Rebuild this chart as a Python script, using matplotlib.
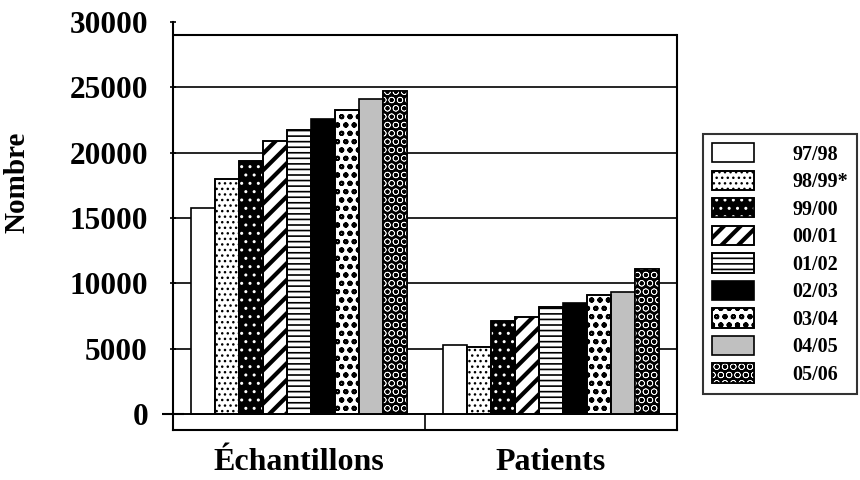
import numpy as np
import matplotlib
matplotlib.use("Agg")
import matplotlib.pyplot as plt
from matplotlib.patches import Rectangle

plt.rcParams['font.family'] = ['Liberation Serif', 'DejaVu Serif']
plt.rcParams['font.weight'] = 'bold'
plt.rcParams['hatch.linewidth'] = 1.0

categories = ['Échantillons', 'Patients']
seasons = ['97/98', '98/99*', '99/00', '00/01', '01/02', '02/03', '03/04', '04/05', '05/06']
samples = [15800, 18000, 19400, 20900, 21700, 22600, 23300, 24100, 24700]
patients = [5300, 5100, 7100, 7400, 8200, 8500, 9100, 9300, 11100]
yticks = [0, 5000, 10000, 15000, 20000, 25000, 30000]

# face, hatch, hatch colour, hatch linewidth
styles = [
    ('white', None, 'black', 1.0),
    ('white', '...', 'black', 1.0),
    ('black', '..', 'white', 1.0),
    ('white', '//', 'black', 3.0),
    ('white', '---', 'black', 1.2),
    ('black', None, 'black', 1.0),
    ('white', 'oo', 'black', 1.4),
    ('#c0c0c0', None, 'black', 1.0),
    ('black', 'OO', 'white', 0.45),
]


def set_hlw(p, lw):
    if hasattr(p, 'set_hatch_linewidth'):
        p.set_hatch_linewidth(lw)
    else:
        p._hatch_linewidth = lw


fig = plt.figure(figsize=(8.6, 4.8), dpi=100)
ax = fig.add_axes([173 / 860, 50 / 480, 504 / 860, 408 / 480])

x = np.arange(len(categories))
width = 0.0952
handles = []
for i, season in enumerate(seasons):
    face, hatch, hcol, hlw = styles[i]
    vals = [samples[i], patients[i]]
    pos = x + (i - 4) * width
    base = ax.bar(pos, vals, width, color=face, edgecolor='black', linewidth=1.2, zorder=2)
    parts = [base[0]]
    if hatch:
        over = ax.bar(pos, vals, width, color='none', edgecolor=hcol, hatch=hatch,
                      linewidth=0, zorder=3)
        for p in over:
            set_hlw(p, hlw)
        line = ax.bar(pos, vals, width, fill=False, edgecolor='black', linewidth=1.2, zorder=4)
        parts += [over[0], line[0]]
    handles.append(tuple(parts))

ax.set_xlim(-0.5, 1.5)
ax.set_ylim(-1224, 30000)
ax.set_yticks(yticks)
ax.set_yticklabels([str(v) for v in yticks], fontsize=22.5, fontweight='bold')
ax.set_xticks(x)
ax.set_xticklabels(categories, fontsize=23, fontweight='bold')
ax.tick_params(axis='x', length=0, pad=13)
ax.tick_params(axis='y', length=4, direction='inout', pad=16, width=1.2)
ax.set_xticks([0.5], minor=True)
ax.tick_params(axis='x', which='minor', direction='in', length=11.5, width=1.2)

ax.yaxis.grid(True, color='black', linewidth=1.2, zorder=0)
ax.set_axisbelow(True)
ax.yaxis.get_gridlines()[-1].set_visible(False)
zero_tick = ax.yaxis.get_major_ticks()[0]
zero_tick.tick1line.set_color('#3030c0')
zero_tick.tick1line.set_markersize(16)
zero_tick.tick1line.set_markeredgewidth(1.5)

ax.axhline(0, color='black', linewidth=1.2, zorder=5)
ax.axhline(29000, color='black', linewidth=1.5, zorder=1)
ax.spines['top'].set_visible(False)
ax.spines['right'].set_bounds(-1224, 29000)
for s in ['left', 'right', 'bottom']:
    ax.spines[s].set_linewidth(1.5)

fig.text(17 / 860, 1 - 182 / 480, 'Nombre', rotation=90, fontsize=21, fontweight='bold',
         ha='center', va='center')

leg = fig.legend(handles, seasons, loc='center', bbox_to_anchor=(780 / 860, 1 - 264 / 480),
                 prop={'weight': 'bold', 'size': 14.5},
                 frameon=True, fancybox=False, edgecolor='black',
                 handlelength=2.1, handleheight=1.1, handletextpad=1.9,
                 labelspacing=0.3, borderpad=0.45)
leg.get_frame().set_linewidth(1.5)

# legend copies of the patches do not keep the hatch line width
hatch_lw = {st[1]: st[3] for st in styles if st[1]}
for p in leg.findobj(Rectangle):
    h = p.get_hatch()
    if h in hatch_lw:
        set_hlw(p, hatch_lw[h])

fig.savefig('out.png', dpi=100)
